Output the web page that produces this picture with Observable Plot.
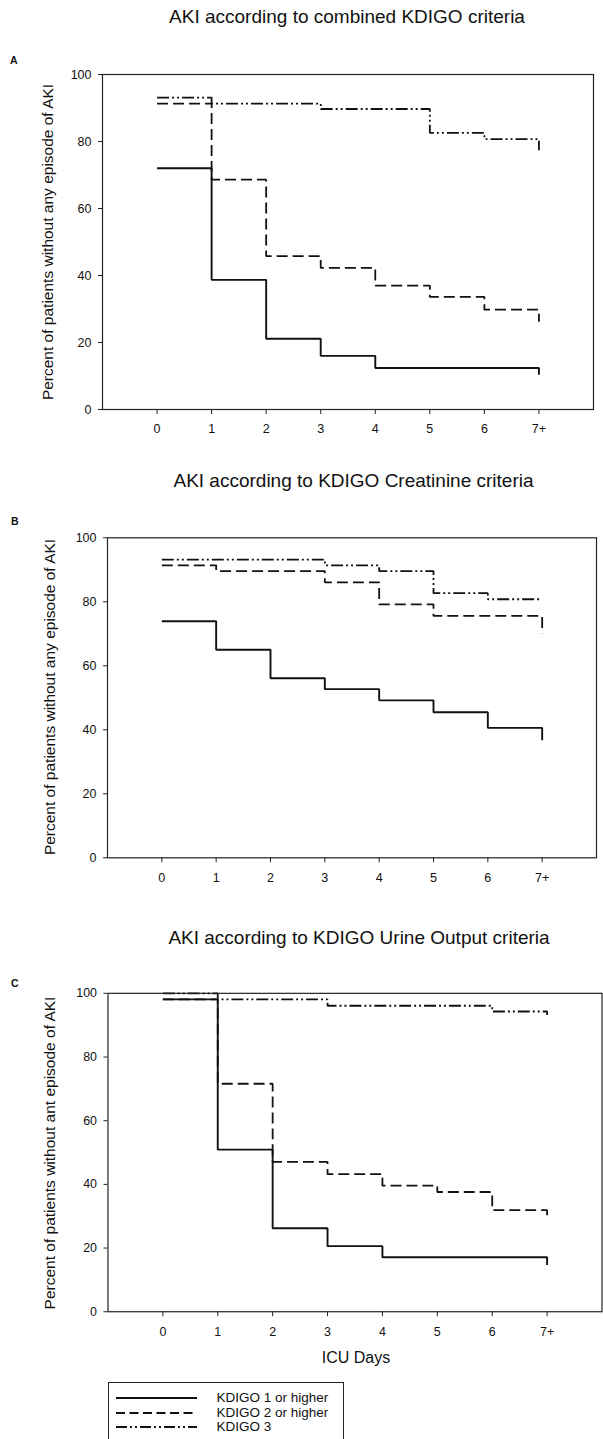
<!DOCTYPE html>
<html>
<head>
<meta charset="utf-8">
<script src="https://cdn.jsdelivr.net/npm/d3@7"></script>
<script src="https://cdn.jsdelivr.net/npm/@observablehq/plot@0.6"></script>
<style>
  html, body { margin: 0; padding: 0; background: #fff; }
  body { width: 603px; height: 1439px; overflow: hidden; position: relative;
         font-family: Arial, "Liberation Sans", Helvetica, sans-serif; color: #111; }
  .t { position: absolute; white-space: nowrap; line-height: 1; }
  .panel { position: absolute; left: 0; }
  .legend { position: absolute; border: 1px solid #222; background: #fff; }
</style>
</head>
<body>
<script>
// ---------------- data ----------------
const days = [0, 1, 2, 3, 4, 5, 6, 7];
const xTickLabels = ["0", "1", "2", "3", "4", "5", "6", "7+"];
const yTicks = [0, 20, 40, 60, 80, 100];
const seriesNames = ["KDIGO 1 or higher", "KDIGO 2 or higher", "KDIGO 3"];
const panelLetters = ["A", "B", "C"];
const panelTitles = [
  "AKI according to combined KDIGO criteria",
  "AKI according to KDIGO Creatinine criteria",
  "AKI according to KDIGO Urine Output criteria"
];
const yLabels = [
  "Percent of patients without any episode of AKI",
  "Percent of patients without any episode of AKI",
  "Percent of patients without ant episode of AKI"
];
const xLabel = "ICU Days";

// Panel A: combined KDIGO criteria
const combinedK1 = [72.0, 38.7, 21.1, 16.0, 12.4, 12.4, 12.4, 10.4];
const combinedK2 = [91.3, 68.6, 45.8, 42.3, 37.0, 33.6, 29.8, 26.2];
const combinedK3 = [93.1, 91.3, 91.3, 89.7, 89.7, 82.6, 80.7, 77.4];
// Panel B: creatinine criteria
const creatK1 = [73.9, 65.0, 56.1, 52.7, 49.2, 45.5, 40.6, 36.7];
const creatK2 = [91.4, 89.6, 89.6, 86.1, 79.2, 75.6, 75.6, 70.2];
const creatK3 = [93.2, 93.2, 93.2, 91.4, 89.6, 82.7, 80.8, 80.8];
// Panel C: urine output criteria
const urineK1 = [98.1, 50.9, 26.2, 20.6, 17.1, 17.1, 17.1, 14.7];
const urineK2 = [98.1, 71.6, 47.1, 43.2, 39.6, 37.6, 31.9, 29.8];
const urineK3 = [100.0, 98.1, 98.1, 96.1, 96.1, 96.1, 94.3, 93.2];

// ---------------- styles ----------------
const FONT = 'Arial, "Liberation Sans", Helvetica, sans-serif';
const lineStyles = [
  { strokeWidth: 1.9, strokeDasharray: null },
  { strokeWidth: 1.8, strokeDasharray: "11,5" },
  { strokeWidth: 1.8, strokeDasharray: "12,3,2,3,2,3" }
];

function text(str, x, baseline, size, extra = {}) {
  const d = document.createElement("div");
  d.className = "t";
  d.textContent = str;
  d.style.fontSize = size + "px";
  d.style.top = (baseline - 0.8465 * size) + "px";
  if (extra.center) {
    d.style.left = x + "px";
    d.style.transform = "translateX(-50%)";
  } else {
    d.style.left = x + "px";
  }
  if (extra.bold) d.style.fontWeight = "bold";
  document.body.appendChild(d);
  return d;
}

function rotText(str, baselineX, cy, size) {
  const d = document.createElement("div");
  d.className = "t";
  d.textContent = str;
  d.style.fontSize = size + "px";
  const cx = baselineX - 0.3465 * size;
  d.style.left = cx + "px";
  d.style.top = cy + "px";
  d.style.transform = "translate(-50%, -50%) rotate(-90deg)";
  document.body.appendChild(d);
}

const panels = [
  { k: [combinedK1, combinedK2, combinedK3], svgTop: 40, width: 603, height: 410,
    mt: 34, mb: 41, ml: 102, mr: 10,
    title: { x: 347, b: 23 }, letter: { x: 10, b: 64 }, ylab: { bx: 53.3, cy: 241.5 } },
  { k: [creatK1, creatK2, creatK3], svgTop: 500, width: 603, height: 390,
    mt: 37.3, mb: 32.7, ml: 107, mr: 7,
    title: { x: 353.5, b: 487 }, letter: { x: 11, b: 525 }, ylab: { bx: 55, cy: 697.3 } },
  { k: [urineK1, urineK2, urineK3], svgTop: 960, width: 606, height: 380,
    mt: 33, mb: 27, ml: 108, mr: 1.5,
    title: { x: 359, b: 944 }, letter: { x: 11, b: 987 }, ylab: { bx: 55, cy: 1153 } }
];

panels.forEach((p, pi) => {
  const rows = (vals) => days.map((d, i) => ({ day: d, value: vals[i] }));
  const chart = Plot.plot({
    width: p.width,
    height: p.height,
    marginTop: p.mt,
    marginBottom: p.mb,
    marginLeft: p.ml,
    marginRight: p.mr,
    x: { domain: [-1, 8] },
    y: { domain: [0, 100] },
    style: { fontFamily: FONT, fontSize: "12.5px", color: "#111", background: "transparent", overflow: "visible" },
    marks: [
      Plot.axisX({ ticks: days, tickFormat: (d) => xTickLabels[days.indexOf(d)],
                   tickSize: 5, tickPadding: 10, label: null, stroke: "#222" }),
      Plot.axisY({ ticks: yTicks, tickSize: 4, tickPadding: 7, label: null, stroke: "#222" }),
      ...p.k.map((vals, si) => Plot.line(rows(vals), {
        x: "day", y: "value", curve: "step-after",
        stroke: "#111",
        strokeWidth: lineStyles[si].strokeWidth,
        strokeDasharray: lineStyles[si].strokeDasharray,
        strokeLinecap: "butt", strokeLinejoin: "miter"
      })),
      Plot.frame({ stroke: "#222", strokeWidth: 1.2 })
    ]
  });
  chart.classList.add("panel");
  chart.style.top = p.svgTop + "px";
  chart.style.position = "absolute";
  document.body.appendChild(chart);

  text(panelTitles[pi], p.title.x, p.title.b, 19, { center: true });
  text(panelLetters[pi], p.letter.x, p.letter.b, 10.5, { bold: true });
  rotText(yLabels[pi], p.ylab.bx, p.ylab.cy, 15.5);
});

// x-axis label for the last panel
text(xLabel, 356, 1364, 16, { center: true });

// legend
const leg = document.createElement("div");
leg.className = "legend";
leg.style.left = "107.5px";
leg.style.top = "1381.5px";
leg.style.width = "234px";
leg.style.height = "90px";
document.body.appendChild(leg);
const legRows = [1398, 1412.5, 1426.8];
seriesNames.forEach((name, i) => {
  const svg = d3.create("svg")
    .attr("width", 84).attr("height", 6)
    .style("position", "absolute")
    .style("left", "115px")
    .style("top", (legRows[i] - 3) + "px");
  svg.append("line")
    .attr("x1", 1).attr("x2", 82).attr("y1", 3).attr("y2", 3)
    .attr("stroke", "#111")
    .attr("stroke-width", lineStyles[i].strokeWidth)
    .attr("stroke-dasharray", i === 1 ? "9,4.5" : (i === 2 ? "11,3,2,3,2,3" : null));
  document.body.appendChild(svg.node());
  text(name, 216.5, legRows[i] + 4.8, 13.5);
});
</script>
</body>
</html>
